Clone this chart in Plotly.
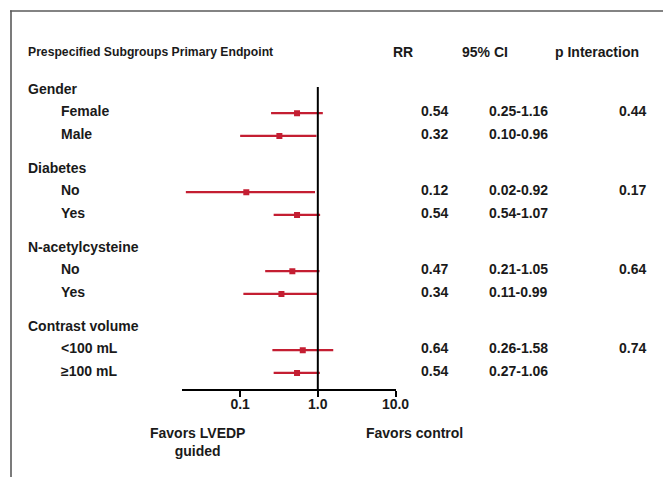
import plotly.graph_objects as go

# ---- data ----
groups = ["Gender", "Diabetes", "N-acetylcysteine", "Contrast volume"]
subgroups = [["Female", "Male"], ["No", "Yes"], ["No", "Yes"], ["<100 mL", "≥100 mL"]]
rr = [[0.54, 0.32], [0.12, 0.54], [0.47, 0.34], [0.64, 0.54]]
ci_low = [[0.25, 0.10], [0.02, 0.27], [0.21, 0.11], [0.26, 0.27]]
ci_high = [[1.16, 0.96], [0.92, 1.07], [1.05, 0.99], [1.58, 1.06]]
rr_text = [["0.54", "0.32"], ["0.12", "0.54"], ["0.47", "0.34"], ["0.64", "0.54"]]
ci_text = [["0.25-1.16", "0.10-0.96"], ["0.02-0.92", "0.54-1.07"],
           ["0.21-1.05", "0.11-0.99"], ["0.26-1.58", "0.27-1.06"]]
p_interaction = ["0.44", "0.17", "0.64", "0.74"]
tick_vals = [0.1, 1, 10]
tick_text = ["0.1", "1.0", "10.0"]

# ---- layout helpers (page has an 8px body margin) ----
OFF = 8
W, H = 671 - 2 * OFF, 485 - 2 * OFF
FONT = "Liberation Sans, Arial, sans-serif"
RED = "#C41E32"
FS = 14
U = 22.7            # px per row
P = 79.0            # px per group
Y0 = 90.5 - OFF     # px of first group label row
AXIS_PX = 389 - OFF
TOP_PX = 87 - OFF
TXT_SHIFT = 2

def slot(g, k):
    return g * P / U + k

def px(x):
    return (x - OFF) / W

def py(y):
    return (H - (y - OFF)) / H

fig = go.Figure()

def ann(x, y, text, xanchor="left", yref="y", **kw):
    d = dict(x=x, xref="paper", y=y, yref=yref, text=text, xanchor=xanchor,
             yanchor="middle", showarrow=False)
    d.update(kw)
    return d

annotations = []
for g, grp in enumerate(groups):
    annotations.append(ann(px(26), slot(g, 0), f"<b>{grp}</b>", yshift=TXT_SHIFT))
    for k, sub in enumerate(subgroups[g]):
        y = slot(g, k + 1)
        fig.add_trace(go.Scatter(
            x=[ci_low[g][k], ci_high[g][k]], y=[y, y], mode="lines",
            line=dict(color=RED, width=2.2), showlegend=False, hoverinfo="skip"))
        fig.add_trace(go.Scatter(
            x=[rr[g][k]], y=[y], mode="markers",
            marker=dict(symbol="square", size=6, color=RED), showlegend=False))
        annotations.append(ann(px(59), y, f"<b>{sub}</b>", yshift=TXT_SHIFT))
        annotations.append(ann(px(450), y, f"<b>{rr_text[g][k]}</b>", "right", yshift=TXT_SHIFT))
        annotations.append(ann(px(487), y, f"<b>{ci_text[g][k]}</b>", yshift=TXT_SHIFT))
    annotations.append(ann(px(648), slot(g, 1), f"<b>{p_interaction[g]}</b>", "right",
                           yshift=TXT_SHIFT))

# headers
annotations.append(ann(px(26), py(52), "<b>Prespecified Subgroups Primary Endpoint</b>",
                       yref="paper", font=dict(family=FONT, size=12.2)))
annotations.append(ann(px(403), py(52), "<b>RR</b>", "center", yref="paper"))
annotations.append(ann(px(485), py(52), "<b>95% CI</b>", "center", yref="paper"))
annotations.append(ann(px(597), py(52), "<b>p Interaction</b>", "center", yref="paper"))
# footer
annotations.append(ann(px(197), py(442), "<b>Favors LVEDP<br>guided</b>", "center", yref="paper"))
annotations.append(ann(px(414), py(433), "<b>Favors control</b>", "center", yref="paper"))

shapes = [
    dict(type="line", xref="x", x0=1, x1=1, yref="y domain", y0=0, y1=1,
         line=dict(color="black", width=2)),
    dict(type="line", xref="paper", x0=px(10), x1=1.02, yref="paper",
         y0=py(11), y1=py(11), line=dict(color="#5a5a5a", width=1.6)),
    dict(type="line", xref="paper", x0=px(11), x1=px(11), yref="paper",
         y0=py(10.5), y1=-0.02, line=dict(color="#5a5a5a", width=1.6)),
]

y_bottom = (AXIS_PX - Y0) / U
y_top = (TOP_PX - Y0) / U

fig.update_layout(
    width=W, height=H,
    margin=dict(l=0, r=0, t=0, b=0, autoexpand=False),
    paper_bgcolor="white", plot_bgcolor="white",
    font=dict(family=FONT, size=FS, color="#1a1a1a"),
    annotations=annotations,
    shapes=shapes,
    xaxis=dict(type="log", range=[-1.755, 1.0],
               domain=[px(181.5), px(395.5)],
               tickvals=tick_vals, ticktext=[f"<b>{t}</b>" for t in tick_text],
               ticks="outside", ticklen=6, tickwidth=2, tickcolor="black",
               ticklabelstandoff=-5,
               showline=True, linecolor="black", linewidth=2,
               showgrid=False, zeroline=False, anchor="y",
               tickfont=dict(family=FONT, size=FS, color="#1a1a1a")),
    yaxis=dict(range=[y_bottom, y_top],
               domain=[(H - AXIS_PX) / H, (H - TOP_PX) / H],
               visible=False, showgrid=False, zeroline=False),
    showlegend=False,
)

fig.write_html("out.html")
